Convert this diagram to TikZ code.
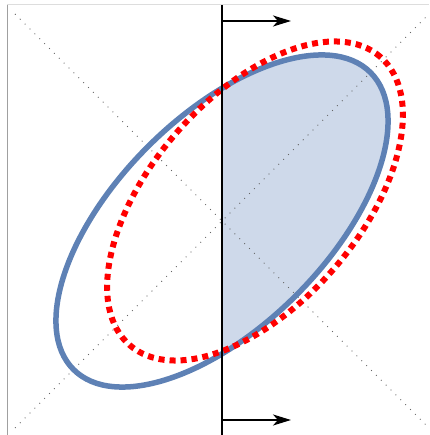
\documentclass[tikz,border=0pt]{standalone}
\usetikzlibrary{arrows.meta}
\definecolor{mblue}{RGB}{94,129,181}
\definecolor{mfill}{RGB}{206,217,234}
\definecolor{framegray}{RGB}{160,160,160}
\definecolor{framelight}{RGB}{221,221,221}
\tikzset{
  guide/.style={black!60, line width=0.9pt, dash pattern=on 0.9pt off 6pt},
  blueell/.style={mblue, line width=5.5pt},
  redell/.style={red, line width=6pt, dash pattern=on 6pt off 5pt},
  axisline/.style={black, line width=2pt},
  flowarrow/.style={black, line width=2pt, -{Stealth[length=18pt,width=11pt,inset=5pt]}}
}
\begin{document}
\begin{tikzpicture}[x=1pt,y=1pt]
\useasboundingbox (0,0) rectangle (429,435);
% frame
\draw[framelight, line width=1pt] (7,430) -- (429,430);
\draw[framegray, line width=1pt] (7,0) -- (7,430);
% coordinates
\coordinate (c) at (222,214);
\coordinate (r) at (255,234);
\coordinate (vtop) at (222,430);
\coordinate (vbot) at (222,0);
\coordinate (a1) at (222,414);
\coordinate (a1e) at (291,414);
\coordinate (a2) at (222,15);
\coordinate (a2e) at (291,15);
% filled half
\begin{scope}
  \clip (222,0) rectangle (429,435);
  \fill[mfill] (c) ellipse[x radius=210pt, y radius=105pt, rotate=45];
\end{scope}
% diagonals
\draw[guide] (15,421) -- (428,8);
\draw[guide] (15,7) -- (428,420);
% ellipses
\draw[blueell] (c) ellipse[x radius=210pt, y radius=105pt, rotate=45];
\draw[redell] (r) ellipse[x radius=191pt, y radius=104pt, rotate=49];
% axis and arrows
\draw[axisline] (vbot) -- (vtop);
\draw[flowarrow] (a1) -- (a1e);
\draw[flowarrow] (a2) -- (a2e);
\end{tikzpicture}
\end{document}
